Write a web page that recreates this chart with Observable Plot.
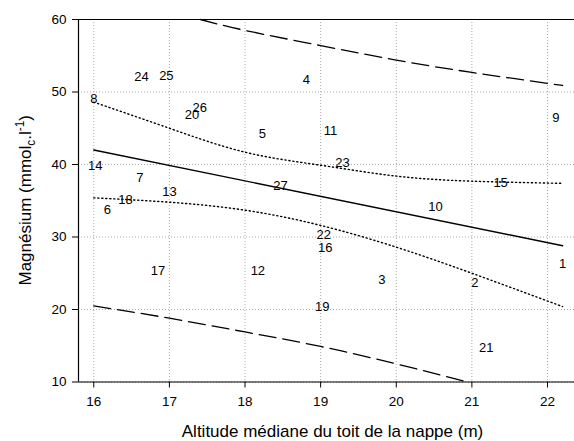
<!DOCTYPE html>
<html><head><meta charset="utf-8">
<script src="https://cdn.jsdelivr.net/npm/d3@7"></script>
<script src="https://cdn.jsdelivr.net/npm/@observablehq/plot@0.6"></script>
<style>
html,body{margin:0;padding:0;background:#fff;overflow:hidden}
svg{display:block}
</style></head><body><div id="chart"></div>
<script>
// Point labels (sample ids) and their coordinates
const ids = [1,2,3,4,5,6,7,8,9,10,11,12,13,14,15,16,17,18,19,20,21,22,23,24,25,26,27];
const altitude = [22.20,21.04,19.81,18.81,18.23,16.18,16.61,16.00,22.11,20.52,19.13,18.17,17.00,16.02,21.38,19.06,16.85,16.42,19.02,17.30,21.19,19.04,19.29,16.63,16.96,17.40,18.47];
const magnesium = [26.3,23.7,24.05,51.7,44.2,33.8,38.1,49.0,46.5,34.1,44.6,25.4,36.2,39.8,37.5,28.5,25.3,35.1,20.4,46.8,14.7,30.3,40.2,52.15,52.2,47.8,37.0];

// Regression line
const fitX = [16, 22.2];
const fitY = [42.0, 28.8];
// Confidence band (dotted)
const ciX = [16, 17, 18, 19, 20, 21, 22.2];
const ciUpper = [48.6, 45.0, 41.7, 39.9, 38.4, 37.7, 37.4];
const ciLower = [35.4, 34.8, 33.7, 31.6, 28.6, 25.0, 20.4];
// Prediction band (dashed)
const piUpperX = [17.41, 18, 19, 20, 21, 22.2];
const piUpperY = [60.0, 58.5, 56.4, 54.4, 52.7, 50.9];
const piLowerX = [16, 17, 18, 19, 20, 20.94];
const piLowerY = [20.5, 18.8, 16.9, 14.9, 12.5, 10.0];

const xTicks = [16, 17, 18, 19, 20, 21, 22];
const yTicks = [10, 20, 30, 40, 50, 60];
const xDomain = [15.798, 22.357];
const yDomain = [10, 60];
const xTitle = "Altitude médiane du toit de la nappe (m)";
const yTitle = "Magnésium (mmolc.l-1)";

const points = ids.map((id, i) => ({id, x: altitude[i], y: magnesium[i]}));
const rows = (xs, ys) => xs.map((x, i) => ({x, y: ys[i]}));

const gridStyle = {stroke: "#a9a9a9", strokeOpacity: 1, strokeWidth: 1, strokeDasharray: "1,2"};

const plot = Plot.plot({
  width: 574, height: 441,
  marginLeft: 78, marginRight: 0, marginTop: 19, marginBottom: 59.5,
  style: {fontFamily: "'Liberation Sans', Arial, sans-serif", background: "#fff", color: "#000"},
  x: {domain: xDomain},
  y: {domain: yDomain},
  marks: [
    Plot.gridX(xTicks, gridStyle),
    Plot.gridY(yTicks, gridStyle),
    Plot.line(rows(piUpperX, piUpperY), {x: "x", y: "y", curve: "natural", stroke: "#000", strokeWidth: 1.3, strokeDasharray: "17,7"}),
    Plot.line(rows(piLowerX, piLowerY), {x: "x", y: "y", curve: "natural", stroke: "#000", strokeWidth: 1.3, strokeDasharray: "17,7"}),
    Plot.line(rows(ciX, ciUpper), {x: "x", y: "y", curve: "natural", stroke: "#000", strokeWidth: 1.4, strokeDasharray: "1.2,2.8"}),
    Plot.line(rows(ciX, ciLower), {x: "x", y: "y", curve: "natural", stroke: "#000", strokeWidth: 1.4, strokeDasharray: "1.2,2.8"}),
    Plot.line(rows(fitX, fitY), {x: "x", y: "y", stroke: "#000", strokeWidth: 1.4}),
    Plot.text(points, {x: "x", y: "y", text: "id", fontSize: 13, fill: "#000"}),
    Plot.ruleY(yDomain, {stroke: "#000", strokeWidth: 1.2}),
    Plot.ruleX([xDomain[0]], {stroke: "#000", strokeWidth: 1.2}),
    Plot.axisX(xTicks, {tickSize: 6, tickPadding: 8, fontSize: 13.5, label: null, stroke: "#000"}),
    Plot.axisY(yTicks, {tickSize: 6, tickPadding: 6, fontSize: 13.5, label: null, stroke: "#000"}),
    Plot.text([xTitle], {text: d => d, frameAnchor: "bottom", lineAnchor: "middle", dy: 50, dx: 6, fontSize: 17, fill: "#000"}),
    Plot.text([yTitle], {text: d => d, frameAnchor: "left", rotate: -90, fontSize: 17, fill: "#000", className: "ytitle"})
  ]
});
document.getElementById("chart").appendChild(plot);

// y title: add subscript / superscript, then place it (centre of the frame height)
const g = d3.select(plot).select("g.ytitle");
g.attr("transform", null);
const t = g.select("text");
t.text(null)
  .attr("text-anchor", "start")
  .attr("x", null).attr("y", null).attr("dx", null).attr("dy", null);
t.append("tspan").text("Magnésium (mmol");
t.append("tspan").attr("font-size", "70%").attr("dy", "3.5").text("c");
t.append("tspan").attr("dy", "-3.5").text(".l");
t.append("tspan").attr("font-size", "70%").attr("dy", "-7").text("-1");
t.append("tspan").attr("dy", "7").text(")");
let len = 0;
try { len = t.node().getComputedTextLength(); } catch (e) {}
if (!len) { try { len = t.node().getBBox().width; } catch (e) {} }
if (!len) len = 175;
const centreY = 19 + (441 - 19 - 59.5) / 2;
const baselineX = 31;
t.attr("transform", `translate(${baselineX},${centreY + len / 2}) rotate(-90)`);
</script>
</body></html>
